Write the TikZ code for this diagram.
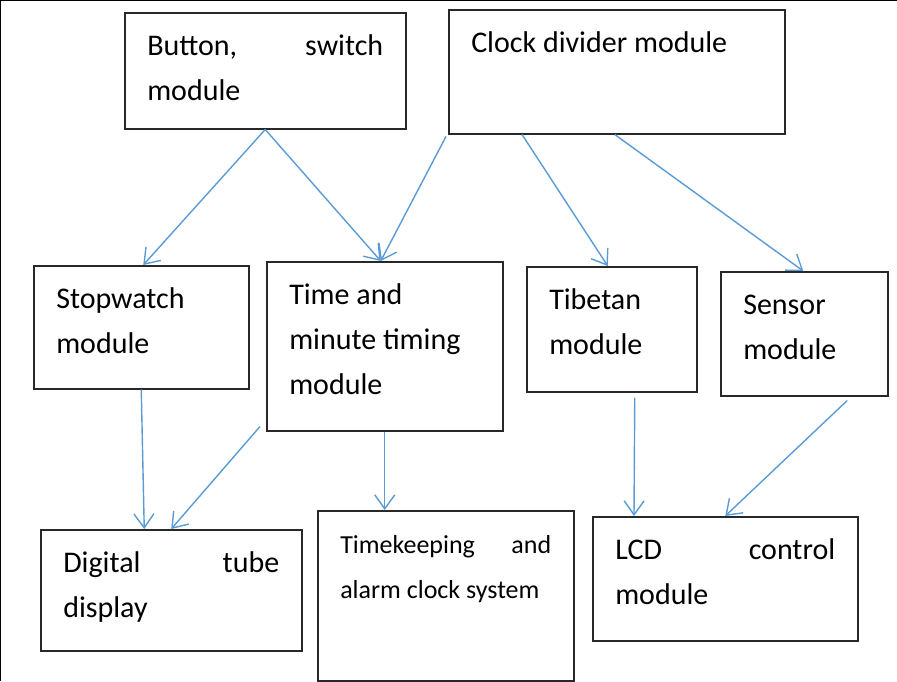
\documentclass[tikz,border=0pt]{standalone}
\usepackage{fontspec}
\setmainfont{Carlito}
\usepackage{tikz}
\usetikzlibrary{arrows.meta}
\definecolor{flowblue}{RGB}{91,155,213}
\definecolor{boxline}{RGB}{40,40,40}

% text block of a module: width, height, lines
\newcommand{\modtext}[3]{\parbox[c][#2][t]{#1}{\fontsize{30}{45}\selectfont\strut#3}}
\newcommand{\smalltext}[3]{\parbox[c][#2][t]{#1}{\fontsize{26}{45}\selectfont\strut#3}}

\begin{document}
\begin{tikzpicture}[x=1pt, y=-1pt,
    module/.style={draw=boxline, line width=1.5pt, anchor=north west,
        inner xsep=22.5pt, inner ysep=11.5pt},
    flow/.style={flowblue, line width=1.4pt, -{Straight Barb[length=14pt,width=20pt]}}]
    \useasboundingbox (0,0) rectangle (897,681);

    % frame
    \draw[line width=2pt] (0,681) -- (0,0) -- (897,0);

    % top row
    \node[module] (button) at (124,12) {\modtext{236pt}{93pt}{Button,\hfill switch\\module}};
    \node[module] (clock) at (448,9) {\modtext{291pt}{101pt}{Clock divider module}};

    % middle row
    \node[module] (stop) at (33,265) {\modtext{170pt}{100pt}{Stopwatch\\module}};
    \node[module] (time) at (266,261) {\modtext{191pt}{146pt}{Time and\\minute timing\\module}};
    \node[module] (tibetan) at (526,266) {\modtext{125pt}{102pt}{Tibetan\\module}};
    \node[module] (sensor) at (720,271) {\modtext{122pt}{101pt}{Sensor\\module}};

    % bottom row
    \node[module] (digital) at (40,529) {\modtext{216pt}{98pt}{Digital\hfill tube\\display}};
    \node[module] (keeping) at (317,510) {\smalltext{211pt}{147pt}{Timekeeping\hfill and\\alarm clock system}};
    \node[module] (lcd) at (592,516) {\modtext{220pt}{101pt}{LCD\hfill control\\module}};

    % connections
    \draw[flow] (button.south) -- ([xshift=2pt]stop.north);
    \draw[flow] (button.south) -- ([xshift=-4pt]time.north);
    \draw[flow] ([xshift=-2pt,yshift=-2pt]clock.south west) -- ([xshift=-4pt]time.north);
    \draw[flow] ([xshift=74pt]clock.south west) -- ([xshift=-4pt]tibetan.north);
    \draw[flow] ([xshift=-2pt]clock.south) -- ([xshift=-1pt]sensor.north);

    \draw[flow] (stop.south) -- ([xshift=-27pt]digital.north);
    \draw[flow] ([xshift=-6pt,yshift=5pt]time.south west) -- (digital.north);
    \draw[flow] (time.south) -- (time.south |- keeping.north);
    \draw[flow] ([xshift=23pt,yshift=-5pt]tibetan.south) -- ([xshift=42pt]lcd.north west);
    \draw[flow] ([xshift=43pt,yshift=-4pt]sensor.south) -- (lcd.north);
\end{tikzpicture}
\end{document}
